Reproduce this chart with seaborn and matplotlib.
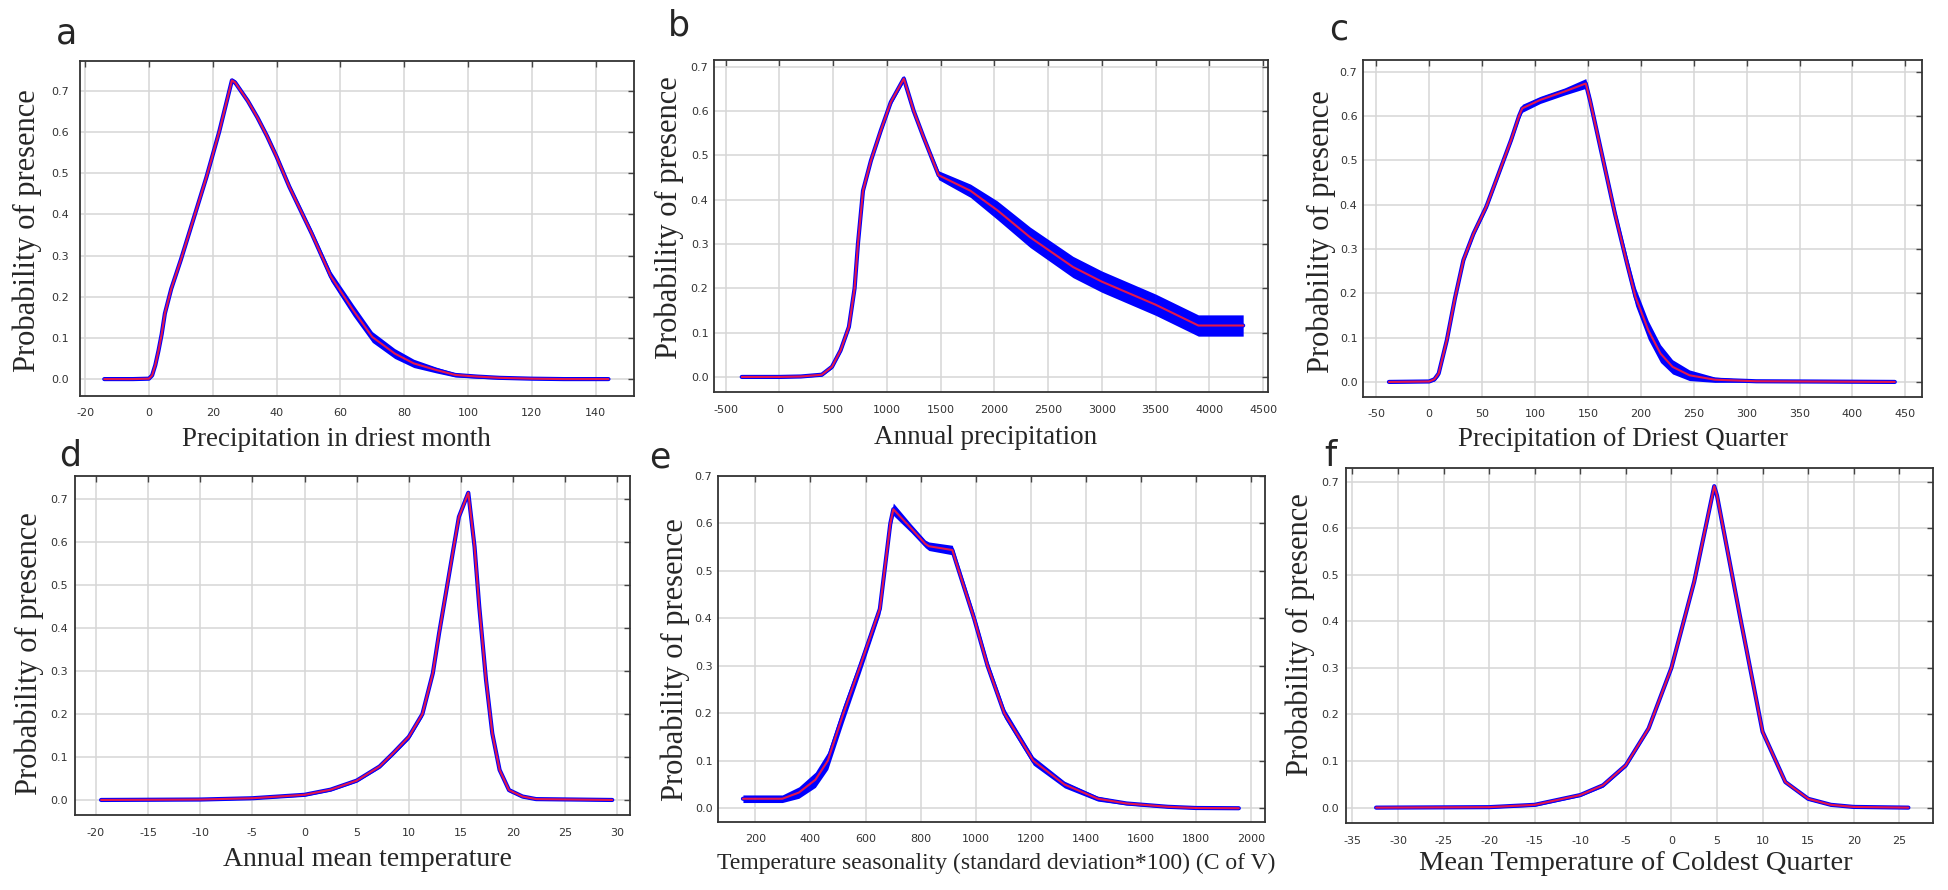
import numpy as np
import pandas as pd
import matplotlib
matplotlib.use("Agg")
import matplotlib.pyplot as plt
import seaborn as sns

# response curves: x, mean probability, half width of the blue band
a_x = [-14, -5, 0, 1, 2, 3, 4, 5, 7, 10, 14, 18, 22, 26, 27, 31, 34, 37, 40, 44, 51, 57, 64, 70, 77, 83, 90, 96, 103, 110, 120, 130, 144]
a_y = [0.001, 0.001, 0.002, 0.01, 0.035, 0.07, 0.11, 0.16, 0.22, 0.29, 0.39, 0.49, 0.60, 0.725, 0.72, 0.675, 0.635, 0.59, 0.54, 0.467, 0.354, 0.25, 0.168, 0.103, 0.063, 0.039, 0.023, 0.011, 0.007, 0.004, 0.002, 0.001, 0.001]
a_w = [0.002, 0.002, 0.002, 0.003, 0.004, 0.005, 0.006, 0.006, 0.006, 0.006, 0.006, 0.006, 0.006, 0.006, 0.006, 0.006, 0.006, 0.007, 0.008, 0.008, 0.009, 0.012, 0.014, 0.013, 0.012, 0.01, 0.007, 0.005, 0.004, 0.003, 0.002, 0.002, 0.002]

b_x = [-350, 0, 200, 395, 490, 570, 647, 700, 731, 778, 852, 944, 1037, 1158, 1250, 1343, 1482, 1778, 2028, 2333, 2732, 3000, 3500, 3898, 4315]
b_y = [0.0, 0.0, 0.001, 0.005, 0.023, 0.06, 0.113, 0.20, 0.30, 0.42, 0.488, 0.556, 0.62, 0.673, 0.60, 0.54, 0.455, 0.42, 0.376, 0.315, 0.248, 0.215, 0.163, 0.116, 0.116]
b_w = [0.002, 0.002, 0.002, 0.003, 0.004, 0.005, 0.006, 0.006, 0.006, 0.006, 0.006, 0.006, 0.006, 0.007, 0.006, 0.006, 0.01, 0.015, 0.021, 0.023, 0.024, 0.024, 0.024, 0.024, 0.024]

c_x = [-38, 0, 5, 9, 16.7, 24.5, 32.4, 42, 54, 65.7, 77.5, 85, 88, 105, 128, 148, 152, 163.7, 175.5, 187, 195, 207, 218.6, 230, 246, 270, 309, 440]
c_y = [0.0, 0.001, 0.006, 0.019, 0.094, 0.19, 0.275, 0.335, 0.395, 0.47, 0.546, 0.60, 0.617, 0.636, 0.655, 0.673, 0.635, 0.508, 0.38, 0.267, 0.192, 0.117, 0.064, 0.034, 0.015, 0.005, 0.0015, 0.0]
c_w = [0.002, 0.002, 0.004, 0.006, 0.007, 0.007, 0.007, 0.006, 0.006, 0.006, 0.006, 0.008, 0.009, 0.008, 0.008, 0.011, 0.011, 0.01, 0.012, 0.016, 0.02, 0.021, 0.02, 0.016, 0.012, 0.006, 0.002, 0.002]

d_x = [-19.5, -10, -5, 0, 2.5, 5, 7.2, 8.5, 10, 11.3, 12.3, 12.9, 13.6, 14.2, 14.8, 15.3, 15.7, 16.3, 16.75, 17.4, 18, 18.7, 19.6, 20.9, 22.2, 29.5]
d_y = [0.0, 0.001, 0.004, 0.012, 0.024, 0.045, 0.078, 0.109, 0.147, 0.20, 0.295, 0.388, 0.488, 0.574, 0.659, 0.69, 0.715, 0.589, 0.45, 0.279, 0.155, 0.07, 0.023, 0.008, 0.002, 0.0]
d_w = [0.002, 0.002, 0.002, 0.003, 0.003, 0.003, 0.004, 0.005, 0.006, 0.006, 0.005, 0.004, 0.004, 0.004, 0.004, 0.004, 0.004, 0.004, 0.004, 0.004, 0.005, 0.005, 0.004, 0.003, 0.002, 0.002]

e_x = [155, 298, 358, 418, 463, 520, 581, 652, 690, 701, 765, 817, 830, 915, 930, 994, 1043, 1104, 1209, 1322, 1443, 1548, 1698, 1800, 1955]
e_y = [0.02, 0.02, 0.033, 0.06, 0.1, 0.2, 0.3, 0.42, 0.6, 0.63, 0.59, 0.557, 0.552, 0.544, 0.516, 0.40, 0.30, 0.20, 0.10, 0.05, 0.02, 0.01, 0.003, 0.0005, 0.0]
e_w = [0.008, 0.008, 0.012, 0.016, 0.018, 0.018, 0.015, 0.012, 0.012, 0.013, 0.009, 0.008, 0.009, 0.01, 0.011, 0.011, 0.011, 0.01, 0.009, 0.007, 0.005, 0.003, 0.002, 0.002, 0.002]

f_x = [-32.4, -20, -15, -10, -7.5, -5, -2.5, 0, 2.5, 4.7, 5, 7.5, 10, 12.5, 15, 17.5, 20, 26]
f_y = [0.0, 0.001, 0.006, 0.027, 0.048, 0.091, 0.17, 0.30, 0.485, 0.69, 0.67, 0.413, 0.163, 0.055, 0.019, 0.006, 0.0015, 0.0]
f_w = [0.002, 0.002, 0.003, 0.003, 0.004, 0.004, 0.004, 0.004, 0.004, 0.004, 0.004, 0.004, 0.004, 0.004, 0.003, 0.002, 0.002, 0.002]

letters = ["a", "b", "c", "d", "e", "f"]
xlabels = ["Precipitation in driest month", "Annual precipitation", "Precipitation of Driest Quarter",
           "Annual mean temperature", "Temperature seasonality (standard deviation*100) (C of V)",
           "Mean Temperature of Coldest Quarter"]
xticks = [np.arange(-20, 141, 20), np.arange(-500, 4501, 500), np.arange(-50, 451, 50),
          np.arange(-20, 31, 5), np.arange(200, 2001, 200), np.arange(-35, 26, 5)]
yticks = np.arange(0, 0.71, 0.1)

series = [(a_x, a_y, a_w), (b_x, b_y, b_w), (c_x, c_y, c_w),
          (d_x, d_y, d_w), (e_x, e_y, e_w), (f_x, f_y, f_w)]

# layout in pixels of the 1949x890 picture
W, H = 1949, 890
boxes = [(80, 61, 634, 396), (714, 60, 1268, 392), (1363, 60, 1922, 397),
         (75, 476, 630, 815), (718, 476, 1265, 822), (1346, 468, 1933, 823)]
xlims = [(-21.6, 152), (-608, 4546), (-62.5, 465.7), (-22, 31.2), (64.5, 2050), (-35.7, 28.7)]
ylims = [(-0.04, 0.772), (-0.034, 0.715), (-0.034, 0.726), (-0.035, 0.754), (-0.029, 0.678), (-0.033, 0.729)]
ypads = [8, 4, 4, 5, 4, 5]
letter_pos = [(66, 33), (679, 25), (1339, 29), (70, 456), (660, 458), (1330, 456)]
ylab_pos = [(27, 231), (669, 218), (1321, 232), (29, 654), (675, 660), (1300, 635)]
xlab_pos = [(336, 440), (986, 438), (1623, 440), (367, 860), (996, 863), (1636, 864)]
xlab_size = [19.5, 19.5, 19.5, 20, 17, 20.5]

sns.set_style("whitegrid")
plt.rcParams['font.family'] = ['DejaVu Sans']

fig = plt.figure(figsize=(W / 100, H / 100), dpi=100)

for i, (xs, ys, ws) in enumerate(series):
    l, t, r, b = boxes[i]
    ax = fig.add_axes([l / W, 1 - b / H, (r - l) / W, (b - t) / H])
    df = pd.DataFrame({"x": xs, "y": ys, "w": ws})
    ax.fill_between(df["x"], df["y"] - df["w"], df["y"] + df["w"], color="#0000ff", lw=0, zorder=3)
    sns.lineplot(data=df, x="x", y="y", ax=ax, color="#0000ff", lw=3, zorder=3)
    sns.lineplot(data=df, x="x", y="y", ax=ax, color="#e3174c", lw=1.5, zorder=4)

    ax.set_xlim(xlims[i])
    ax.set_ylim(ylims[i])
    ax.set_xticks(xticks[i])
    ax.set_yticks(yticks)
    ax.set_xticklabels([str(v) for v in xticks[i]])
    ax.set_yticklabels([f"{v:.1f}" for v in yticks])
    ax.set_xlabel("")
    ax.set_ylabel("")
    ax.grid(True, color="#d6d6d6", lw=1.1)
    ax.tick_params(direction="in", top=True, right=True, length=4, width=1, color="#444444",
                   labelsize=8, labelcolor="#333333")
    ax.tick_params(axis="x", pad=9)
    ax.tick_params(axis="y", pad=ypads[i])
    for sp in ax.spines.values():
        sp.set_color("#333333")
        sp.set_linewidth(1.3)

    fig.text(letter_pos[i][0] / W, 1 - letter_pos[i][1] / H, letters[i], fontsize=25,
             family="DejaVu Sans", ha="center", va="center")
    fig.text(ylab_pos[i][0] / W, 1 - ylab_pos[i][1] / H, "Probability of presence", rotation=90,
             fontsize=22, family="Liberation Serif", ha="center", va="center")
    fig.text(xlab_pos[i][0] / W, 1 - xlab_pos[i][1] / H, xlabels[i], fontsize=xlab_size[i],
             family="Liberation Serif", ha="center", va="center")

fig.savefig("out.png", dpi=100)
